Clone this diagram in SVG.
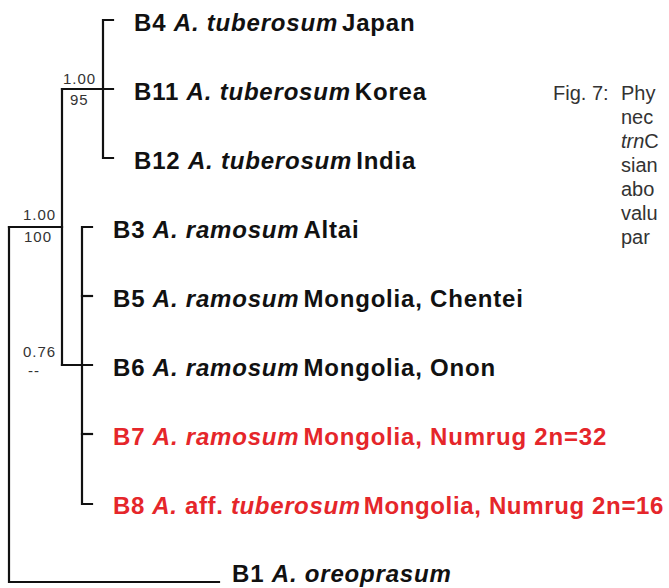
<svg xmlns="http://www.w3.org/2000/svg" width="669" height="588" viewBox="0 0 669 588">
<style>
.br{stroke:#111;stroke-width:2.2;fill:none;stroke-linecap:square}
.lb{font-family:"Liberation Sans",Arial,sans-serif;font-size:24px;font-weight:bold;letter-spacing:0.8px;fill:#111}
.red{fill:#e5262a}
.it{font-style:italic}
.sp{font-family:"Liberation Sans",Arial,sans-serif;font-size:15px;letter-spacing:1px;fill:#333}
.cap{font-family:"Liberation Sans",Arial,sans-serif;font-size:20px;fill:#333}
</style>
<rect width="669" height="588" fill="#fff"/>
<g id="connectors" class="br">
<path d="M9,227 V582 H219"/>
<path d="M9,227 H62"/>
<path d="M62,89 V365"/>
<path d="M62,89 H113"/>
<path d="M113,20 H103 V158 H113"/>
<path d="M62,365 H92"/>
<path d="M92,227 H82 V504 H92"/>
<path d="M82,296 H92"/>
<path d="M82,434 H92"/>
</g>
<g id="supports">
<text class="sp" x="63" y="84">1.00</text>
<text class="sp" x="70" y="105">95</text>
<text class="sp" x="23" y="220">1.00</text>
<text class="sp" x="24" y="242">100</text>
<text class="sp" x="23" y="357">0.76</text>
<text class="sp" x="28" y="376">--</text>
</g>
<g id="leaf-B4"><text class="lb" x="134" y="31">B4 <tspan class="it">A. tuberosum</tspan><tspan dx="4">Japan</tspan></text></g>
<g id="leaf-B11"><text class="lb" x="134" y="100">B11 <tspan class="it">A. tuberosum</tspan><tspan dx="4">Korea</tspan></text></g>
<g id="leaf-B12"><text class="lb" x="134" y="169">B12 <tspan class="it">A. tuberosum</tspan><tspan dx="4">India</tspan></text></g>
<g id="leaf-B3"><text class="lb" x="113" y="238">B3 <tspan class="it">A. ramosum</tspan><tspan dx="4">Altai</tspan></text></g>
<g id="leaf-B5"><text class="lb" x="113" y="307">B5 <tspan class="it">A. ramosum</tspan><tspan dx="4">Mongolia, Chentei</tspan></text></g>
<g id="leaf-B6"><text class="lb" x="113" y="376">B6 <tspan class="it">A. ramosum</tspan><tspan dx="4">Mongolia, Onon</tspan></text></g>
<g id="leaf-B7"><text class="lb red" x="113" y="445">B7 <tspan class="it">A. ramosum</tspan><tspan dx="4">Mongolia, Numrug 2n=32</tspan></text></g>
<g id="leaf-B8"><text class="lb red" x="113" y="514" style="letter-spacing:0.65px">B8 <tspan class="it">A.</tspan> aff. <tspan class="it">tuberosum</tspan><tspan dx="3">Mongolia, Numrug 2n=16</tspan></text></g>
<g id="leaf-B1"><text class="lb" x="232" y="582">B1 <tspan class="it">A. oreoprasum</tspan></text></g>
<g id="caption" class="cap">
<text x="553" y="100">Fig. 7:</text>
<text x="621" y="100">Phy</text>
<text x="621" y="124">nec</text>
<text x="621" y="148"><tspan font-style="italic">trn</tspan>C</text>
<text x="621" y="172">sian</text>
<text x="621" y="196">abo</text>
<text x="621" y="220">valu</text>
<text x="621" y="244">par</text>
</g>
</svg>
